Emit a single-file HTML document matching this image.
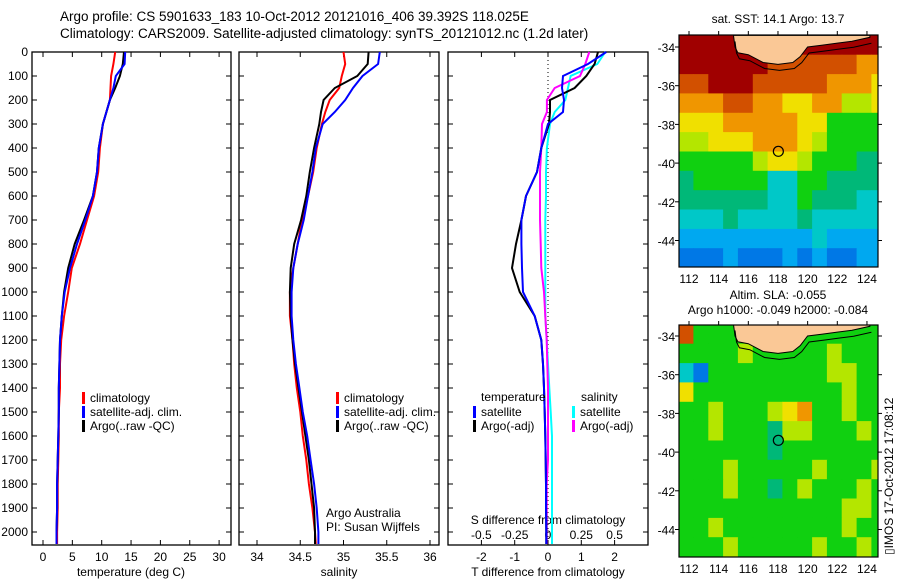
<!DOCTYPE html>
<html><head><meta charset="utf-8">
<style>
html,body{margin:0;padding:0;background:#fff;}
svg{display:block;font-family:"Liberation Sans",sans-serif;}
</style></head>
<body>
<svg id="chart" width="900" height="580" viewBox="0 0 900 580" xmlns="http://www.w3.org/2000/svg">
<text x="60" y="21" font-size="13.5">Argo profile: CS 5901633_183 10-Oct-2012 20121016_406 39.392S 118.025E</text>
<text x="60" y="38" font-size="13.5">Climatology: CARS2009. Satellite-adjusted climatology: synTS_20121012.nc (1.2d later)</text>
<text x="778" y="23" font-size="12" text-anchor="middle">sat. SST: 14.1 Argo: 13.7</text>
<text x="778" y="299" font-size="12" text-anchor="middle">Altim. SLA: -0.055</text>
<text x="778" y="314" font-size="12" text-anchor="middle">Argo h1000: -0.049 h2000: -0.084</text>
<text transform="translate(893,555) rotate(-90)" font-size="12">▯IMOS 17-Oct-2012 17:08:12</text>
<g id="g"></g>
</svg>
<script>
// ---- data ----
const depths = [0,50,100,150,200,250,300,400,500,600,700,800,900,1000,1100,1200,1300,1400,1500,1600,1700,1800,1900,2000,2050];
const tempClim = [12.3,12.0,11.6,11.5,11.4,10.8,10.2,9.7,9.4,8.7,7.5,6.3,4.9,4.3,3.6,3.1,2.9,2.9,2.7,2.7,2.6,2.5,2.5,2.4,2.4];
const tempSat  = [14.0,13.9,12.4,12.0,11.4,10.8,10.2,9.5,9.2,8.5,7.2,5.8,4.6,3.7,3.2,2.9,2.8,2.7,2.7,2.6,2.5,2.4,2.4,2.3,2.3];
const tempArgo = [13.8,13.6,13.1,12.3,11.4,10.8,10.2,9.5,9.2,8.5,7.0,5.4,4.3,3.6,3.2,2.9,2.8,2.7,2.7,2.6,2.5,2.4,2.4,2.3,2.3];
const salClim = [35.0,35.02,34.98,34.95,34.84,34.79,34.75,34.69,34.65,34.59,34.52,34.47,34.42,34.38,34.38,34.41,34.43,34.46,34.5,34.53,34.57,34.6,34.64,34.67,34.68];
const salSat  = [35.42,35.4,35.22,35.11,35.02,34.9,34.76,34.68,34.64,34.59,34.54,34.47,34.42,34.4,34.4,34.42,34.45,34.49,34.53,34.58,34.62,34.66,34.69,34.71,34.71];
const salArgo = [35.29,35.28,35.16,34.9,34.77,34.74,34.72,34.66,34.61,34.57,34.51,34.43,34.39,34.38,34.39,34.41,34.44,34.48,34.52,34.56,34.6,34.63,34.66,34.67,34.67];
const tdiffSat  = [1.75,1.2,0.45,0.42,0.48,0.45,0.0,-0.2,-0.33,-0.66,-0.8,-0.8,-0.78,-0.75,-0.4,-0.2,-0.15,-0.12,-0.1,-0.08,-0.07,-0.06,-0.06,-0.05,-0.05];
const tdiffArgo = [1.5,1.4,1.15,0.8,0.06,0.06,0.03,-0.2,-0.33,-0.66,-0.8,-0.96,-1.08,-0.85,-0.4,-0.2,-0.15,-0.12,-0.1,-0.08,-0.07,-0.06,-0.06,-0.05,-0.05];
const sdiffSat  = [0.43,0.37,0.17,0.15,0.13,0.05,0.015,-0.008,-0.015,-0.015,-0.02,-0.02,-0.02,-0.02,-0.02,-0.01,0.0,0.01,0.02,0.03,0.03,0.03,0.03,0.03,0.03];
const sdiffArgo = [0.31,0.28,0.24,0.05,-0.008,-0.008,-0.045,-0.05,-0.06,-0.06,-0.06,-0.055,-0.05,-0.03,-0.02,-0.01,-0.005,0.0,0.0,0.0,0.0,-0.01,-0.01,-0.01,-0.01];
const depthTicks = [0,100,200,300,400,500,600,700,800,900,1000,1100,1200,1300,1400,1500,1600,1700,1800,1900,2000];
const tempTicks = [0,5,10,15,20,25,30];
const salTicks = ["34","34.5","35","35.5","36"];
const tdTicks = [-2,-1,0,1,2];
const sdTicks = ["-0.5","-0.25","0","0.25","0.5"];
const lonTicks = [112,114,116,118,120,122,124];
const latTicks = [34,36,38,40,42,44];
const sstGrid = ["AAAAAAAAAAAAAA","AAAAAA99999988","99AAA999998887","88899887788667","77788888775555","66777888765555","55555677655544","45555533554444","44444433544433","33343333433333","22222222232222","11121112121122"];
const slaGrid = ["95555655555555","55556555556555","31555555556655","75555555555655","55655567855655","55655546655565","55555545555555","55565555565556","55565545655565","55555555555665","55655555555655","55565555565565"];
const landLon = [115.0,115.1,115.3,116,117,118,119,119.5,120,121,122,123,124.2,124.2];
const landLat = [-33.4,-34.0,-34.3,-34.4,-34.8,-34.9,-34.8,-34.5,-34.0,-33.9,-33.8,-33.7,-33.5,-33.4];
const argoLon = 118.025, argoLat = -39.392;
// ---- setup ----
const NS="http://www.w3.org/2000/svg";
const G=document.getElementById('g');
function mk(tag,attrs,parent){const e=document.createElementNS(NS,tag);for(const k in attrs)e.setAttribute(k,attrs[k]);(parent||G).appendChild(e);return e;}
const yTop=52, yPer=0.24; // px per metre
const yD=d=>yTop+d*yPer;
const yBot=545;
const xT=v=>43+v*5.87;
const xS=v=>257+(v-34)*86.5;
const xTD=v=>548+v*33.3;
const xSD=v=>548+v*133.2;
function panel(x0,x1,name){
  const r=mk('rect',{x:x0,y:yTop,width:x1-x0,height:yBot-yTop,fill:'none',stroke:'#000','stroke-width':1.3});
  
  
  depthTicks.forEach(d=>{
    mk('line',{x1:x0,x2:x0+5,y1:yD(d),y2:yD(d),stroke:'#000'});
    mk('line',{x1:x1,x2:x1-5,y1:yD(d),y2:yD(d),stroke:'#000'});
  });
}
panel(32,231,'temperature-panel');
panel(239,439,'salinity-panel');
panel(448,648,'difference-panel');
depthTicks.forEach(d=>{
  const t=mk('text',{x:28,y:yD(d)+4,'font-size':12,'text-anchor':'end'});
  t.textContent=d;
  
  
});
function xticks(vals,fx,labY,x0,x1,name){
  vals.forEach(v=>{const x=fx(+v);
    mk('line',{x1:x,x2:x,y1:yBot,y2:yBot-5,stroke:'#000'});
    mk('line',{x1:x,x2:x,y1:yTop,y2:yTop+5,stroke:'#000'});
    const t=mk('text',{x:x,y:labY,'font-size':12,'text-anchor':'middle'});t.textContent=v;
    
    
  });
}
xticks(tempTicks,xT,561,32,231,'temperature-tick-label');
xticks(salTicks,xS,561,239,439,'salinity-tick-label');
xticks(tdTicks,xTD,561,448,648,'t-diff-tick-label');
sdTicks.forEach(v=>{const x=xSD(+v);
  const t=mk('text',{x:x,y:539,'font-size':12,'text-anchor':'middle'});t.textContent=v;
  
  
});
function label(txt,x,y,name,anchor){const t=mk('text',{x:x,y:y,'font-size':12,'text-anchor':anchor||'start'});t.textContent=txt;
  
  return t;}
label('temperature (deg C)',131,576,'temperature-axis-title','middle');
label('salinity',339,576,'salinity-axis-title','middle');
label('T difference from climatology',548,576,'t-diff-axis-title','middle');
label('S difference from climatology',548,524,'s-diff-axis-title','middle');
// zero dotted line
mk('line',{x1:548,x2:548,y1:yTop,y2:yBot,stroke:'#000','stroke-dasharray':'1,3'});
function line(xs,fx,color,name){
  const p=mk('polyline',{points:xs.map((v,i)=>fx(v).toFixed(1)+','+yD(depths[i]).toFixed(1)).join(' '),fill:'none',stroke:color,'stroke-width':2});
  
  
}
line(tempClim,xT,'#f00','temp-climatology-line');
line(tempArgo,xT,'#000','temp-argo-line');
line(tempSat,xT,'#00f','temp-satellite-line');
line(salClim,xS,'#f00','sal-climatology-line');
line(salArgo,xS,'#000','sal-argo-line');
line(salSat,xS,'#00f','sal-satellite-line');
line(sdiffSat,xSD,'#0ff','sdiff-satellite-line');
line(sdiffArgo,xSD,'#f0f','sdiff-argo-line');
line(tdiffArgo,xTD,'#000','tdiff-argo-line');
line(tdiffSat,xTD,'#00f','tdiff-satellite-line');
function legend(x,y,color,txt,name){
  mk('rect',{x:x,y:y-10,width:3,height:12,fill:color});
  label(txt,x+8,y,name);
}
legend(82,402,'#f00','climatology','legend-climatology');
legend(82,416,'#00f','satellite-adj. clim.','legend-satellite-adj');
legend(82,430,'#000','Argo(..raw -QC)','legend-argo');
legend(336,402,'#f00','climatology','legend-climatology-2');
legend(336,416,'#00f','satellite-adj. clim.','legend-satellite-adj-2');
legend(336,430,'#000','Argo(..raw -QC)','legend-argo-2');
label('Argo Australia',326,517,'credit-argo-australia');
label('PI: Susan Wijffels',326,531,'credit-pi');
label('temperature',481,401,'legend-temperature-header');
label('salinity',581,401,'legend-salinity-header');
legend(473,416,'#00f','satellite','legend-t-satellite');
legend(473,430,'#000','Argo(-adj)','legend-t-argo');
legend(572,416,'#0ff','satellite','legend-s-satellite');
legend(572,430,'#f0f','Argo(-adj)','legend-s-argo');
// ---- maps ----
const cmap={'0':'#0040c8','1':'#0078e6','2':'#00a8f0','3':'#00c8c8','4':'#00b878','5':'#10d010','6':'#b4e600','7':'#f0e000','8':'#f09600','9':'#d25000','A':'#a00000'};
function map(top,grid,name,latTop0){
  const L=679,R=878,B=top+232;
  const lx=lon=>689+(lon-112)*14.83;
  const ly=lat=>latTop0+(-34-lat)*19.35;
  const clip=mk('clipPath',{id:'c'+name});mk('rect',{x:L,y:top,width:R-L,height:B-top},clip);
  const g=mk('g',{'clip-path':'url(#c'+name+')'});
  
  
  grid.forEach((row,r)=>{[...row].forEach((ch,c)=>{
    const lo=111.3+c, la=-33.4-r;
    mk('rect',{x:lx(lo).toFixed(1),y:ly(la).toFixed(1),width:15.3,height:19.8,fill:cmap[ch]},g);
  });});
  const pts=landLon.map((v,i)=>lx(v).toFixed(1)+','+ly(landLat[i]).toFixed(1)).join(' ');
  const land=mk('polygon',{points:pts,fill:'#fac896',stroke:'#000','stroke-width':1},g);
  
  
  const cl=mk('polyline',{points:landLon.slice(0,13).map((v,i)=>lx(v+0.1).toFixed(1)+','+(ly(landLat[i])+6).toFixed(1)).join(' '),fill:'none',stroke:'#000','stroke-width':1},g);
  const fr=mk('rect',{x:L,y:top,width:R-L,height:B-top,fill:'none',stroke:'#000','stroke-width':1.2});
  const m=mk('circle',{cx:lx(argoLon),cy:ly(argoLat),r:5,fill:'none',stroke:'#000','stroke-width':1.2});
  
  
  lonTicks.forEach(v=>{const x=lx(v);
    mk('line',{x1:x,x2:x,y1:top,y2:top-4,stroke:'#000'});
    const t=mk('text',{x:x,y:B+16,'font-size':12,'text-anchor':'middle'});t.textContent=v;
    
    
  });
  latTicks.forEach(v=>{const y=ly(-v);
    mk('line',{x1:R,x2:R+4,y1:y,y2:y,stroke:'#000'});
    mk('line',{x1:L-4,x2:L,y1:y,y2:y,stroke:'#000'});
    const t=mk('text',{x:675,y:y+5,'font-size':12,'text-anchor':'end'});t.textContent='-'+v;
    
    
  });
}
map(35,sstGrid,'sst-map',47);
map(325,slaGrid,'sla-map',336);
</script>
</body></html>
